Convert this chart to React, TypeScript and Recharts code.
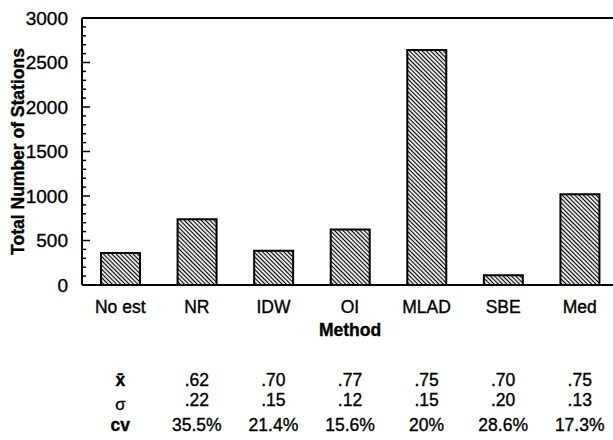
import React from 'react';
import { BarChart, Bar, XAxis, YAxis, ReferenceLine } from 'recharts';

const methods = ['No est', 'NR', 'IDW', 'OI', 'MLAD', 'SBE', 'Med'];
const stations = [360, 740, 385, 625, 2640, 110, 1020];

// stats table under the axis, one column per method after "No est"
const rowLabels = ['x\u0304', '\u03c3', 'cv'];
const meanVals = ['.62', '.70', '.77', '.75', '.70', '.75'];
const sdVals = ['.22', '.15', '.12', '.15', '.20', '.13'];
const cvVals = ['35.5%', '21.4%', '15.6%', '20%', '28.6%', '17.3%'];

const yMajor = [0, 500, 1000, 1500, 2000, 2500, 3000];
const yTicks = Array.from({ length: 31 }, (_, i) => i * 100);

const data = methods.map((m, i) => ({ method: m, stations: stations[i] }));

const FONT = '"Liberation Sans", Arial, Helvetica, sans-serif';
const ink = { fill: '#000', stroke: '#000', strokeWidth: 0.35 };

const MethodTick = (props: any) => {
  const { x, y, payload, index } = props;
  const i = index ?? methods.indexOf(payload.value);
  const rows = [y + 101, y + 121, y + 146];
  return (
    <g fontFamily={FONT} fontSize={17.5}>
      <text x={x} y={y + 28} textAnchor="middle" {...ink}>{payload.value}</text>
      {i === 0 ? (
        <>
          <text x={x} y={rows[0]} textAnchor="middle" fontWeight="bold" {...ink}>{rowLabels[0]}</text>
          <text x={x} y={rows[1] + 4} textAnchor="middle" fontSize={16.5} {...ink}>{rowLabels[1]}</text>
          <text x={x} y={rows[2]} textAnchor="middle" fontWeight="bold" {...ink}>{rowLabels[2]}</text>
        </>
      ) : (
        <>
          <text x={x} y={rows[0]} textAnchor="middle" {...ink}>{meanVals[i - 1]}</text>
          <text x={x} y={rows[1]} textAnchor="middle" {...ink}>{sdVals[i - 1]}</text>
          <text x={x} y={rows[2]} textAnchor="middle" {...ink}>{cvVals[i - 1]}</text>
        </>
      )}
    </g>
  );
};

const StationTick = (props: any) => {
  const { x, y, payload } = props;
  const major = yMajor.includes(payload.value);
  return (
    <g>
      <line x1={x} x2={x + (major ? 8 : 4)} y1={y} y2={y} stroke="#000" strokeWidth={1.5} />
      {major && (
        <text x={x - 14} y={y + 6.5} textAnchor="end" fontFamily={FONT} fontSize={19} {...ink}>
          {payload.value}
        </text>
      )}
    </g>
  );
};

export default function App() {
  return (
    <div style={{ position: 'absolute', left: 0, top: 0, width: 613, height: 440, overflow: 'hidden', background: '#fff' }}>
      <BarChart width={640} height={440} data={data} margin={{ top: 18, right: 22, bottom: 0, left: 0 }} barCategoryGap={0}>
        <defs>
          <pattern id="hatch" patternUnits="userSpaceOnUse" width={3} height={3} patternTransform="rotate(45)">
            <line x1={0} y1={1.5} x2={3} y2={1.5} stroke="#000" strokeWidth={1.2} />
          </pattern>
        </defs>
        <XAxis
          dataKey="method"
          height={155}
          interval={0}
          tickLine={false}
          tickSize={0}
          tickMargin={0}
          axisLine={{ stroke: '#000', strokeWidth: 2 }}
          tick={<MethodTick />}
          label={{
            content: (p: any) => {
              const vb = p.viewBox;
              return (
                <text x={vb.x + vb.width / 2} y={vb.y + 51} textAnchor="middle" fontFamily={FONT} fontSize={17.5} fontWeight="bold" {...ink}>
                  Method
                </text>
              );
            },
          }}
        />
        <YAxis
          width={82}
          domain={[0, 3000]}
          ticks={yTicks}
          interval={0}
          tickLine={false}
          tickSize={0}
          tickMargin={0}
          axisLine={{ stroke: '#000', strokeWidth: 2 }}
          tick={<StationTick />}
          label={{
            content: (p: any) => {
              const vb = p.viewBox;
              return (
                <text
                  transform={`translate(24, ${vb.y + vb.height / 2}) rotate(-90)`}
                  textAnchor="middle"
                  fontFamily={FONT}
                  fontSize={17.5}
                  fontWeight="bold"
                  {...ink}
                >
                  Total Number of Stations
                </text>
              );
            },
          }}
        />
        <ReferenceLine y={3000} stroke="#000" strokeWidth={2} />
        <Bar dataKey="stations" barSize={39} fill="url(#hatch)" stroke="#000" strokeWidth={2} isAnimationActive={false} />
      </BarChart>
    </div>
  );
}
